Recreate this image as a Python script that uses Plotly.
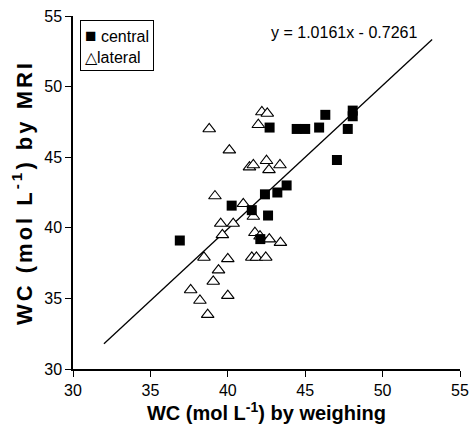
import plotly.graph_objects as go

# Water content measured by weighing vs. estimated by MRI
central_x = [36.9, 40.25, 41.55, 42.1, 42.6, 42.4, 43.2, 43.8, 42.7, 44.45, 45.0, 45.9, 46.3, 47.05, 47.75, 48.07, 48.07]
central_y = [39.1, 41.57, 41.25, 39.2, 40.87, 42.37, 42.5, 43.0, 47.1, 47.0, 47.0, 47.1, 48.0, 44.8, 47.0, 48.3, 47.9]

lateral_x = [38.8, 40.1, 41.4, 41.65, 42.2, 42.55, 41.97, 42.5, 42.66, 43.37, 39.17, 41.0, 41.65, 39.54, 40.35, 39.65,
             41.75, 42.08, 42.68, 43.4, 41.55, 41.85, 42.45, 38.46, 40.0, 39.4, 39.06, 37.6, 38.2, 40.0, 38.7]
lateral_y = [47.0, 45.5, 44.3, 44.45, 48.2, 48.1, 47.3, 44.75, 44.1, 44.45, 42.25, 41.7, 40.8, 40.3, 40.3, 39.5,
             39.65, 39.4, 39.2, 38.95, 37.9, 37.9, 37.9, 37.9, 37.8, 37.0, 36.2, 35.6, 34.85, 35.2, 33.85]

# Linear fit over all samples
slope = 1.0161
intercept = -0.7261
fit_x = [32.0, 53.2]
fit_y = [slope * v + intercept for v in fit_x]

axis_ticks = [30, 35, 40, 45, 50, 55]

font_family = "Liberation Sans, Arial, sans-serif"

fig = go.Figure()

fig.add_trace(go.Scatter(
    x=fit_x, y=fit_y, mode="lines",
    line=dict(color="black", width=1.3),
    showlegend=False, hoverinfo="skip",
))

fig.add_trace(go.Scatter(
    x=lateral_x, y=lateral_y, mode="markers", name="lateral",
    marker=dict(symbol="triangle-up", size=11, color="white",
                line=dict(color="black", width=1.1)),
    showlegend=False,
))

fig.add_trace(go.Scatter(
    x=central_x, y=central_y, mode="markers", name="central",
    marker=dict(symbol="square", size=10, color="black",
                line=dict(color="black", width=0)),
    showlegend=False,
))

# Regression equation
fig.add_annotation(
    x=47.5, y=53.8, xref="x", yref="y",
    text=f"y = {slope:.4f}x - {abs(intercept):.4f}",
    showarrow=False, font=dict(size=16, color="black", family=font_family),
)

# Boxed key for the two sample positions
fig.add_annotation(
    x=0.018, y=0.989, xref="paper", yref="paper", xanchor="left", yanchor="top",
    text="<span style='font-size:19px'>■</span> central<br>△lateral",
    align="left", showarrow=False,
    font=dict(size=16, color="black", family=font_family),
    bordercolor="black", borderwidth=1, borderpad=4, bgcolor="white",
)

axis_common = dict(
    tickvals=axis_ticks, ticks="outside", ticklen=6, tickwidth=1, tickcolor="black",
    showline=True, linecolor="black", linewidth=1.5, showgrid=False, zeroline=False,
    tickfont=dict(size=16, color="black", family=font_family),
    mirror=False, automargin=False,
)

fig.update_xaxes(
    range=[30, 55], **axis_common,
    title=dict(text="<b>WC (mol L<sup>-1</sup>) by weighing</b>",
               font=dict(size=20, color="black", family=font_family), standoff=4),
)
fig.update_yaxes(
    range=[30, 55], **axis_common,
    title=dict(text="<b><span style='letter-spacing:3px'>WC (mol L<sup>-1</sup>) by MRI</span></b>",
               font=dict(size=22, color="black", family=font_family), standoff=6),
)

fig.update_layout(
    width=470, height=424,
    margin=dict(l=73, r=10, t=16, b=55),
    paper_bgcolor="white", plot_bgcolor="white",
    font=dict(family=font_family, color="black"),
    showlegend=False,
)

fig.write_html("out.html")
